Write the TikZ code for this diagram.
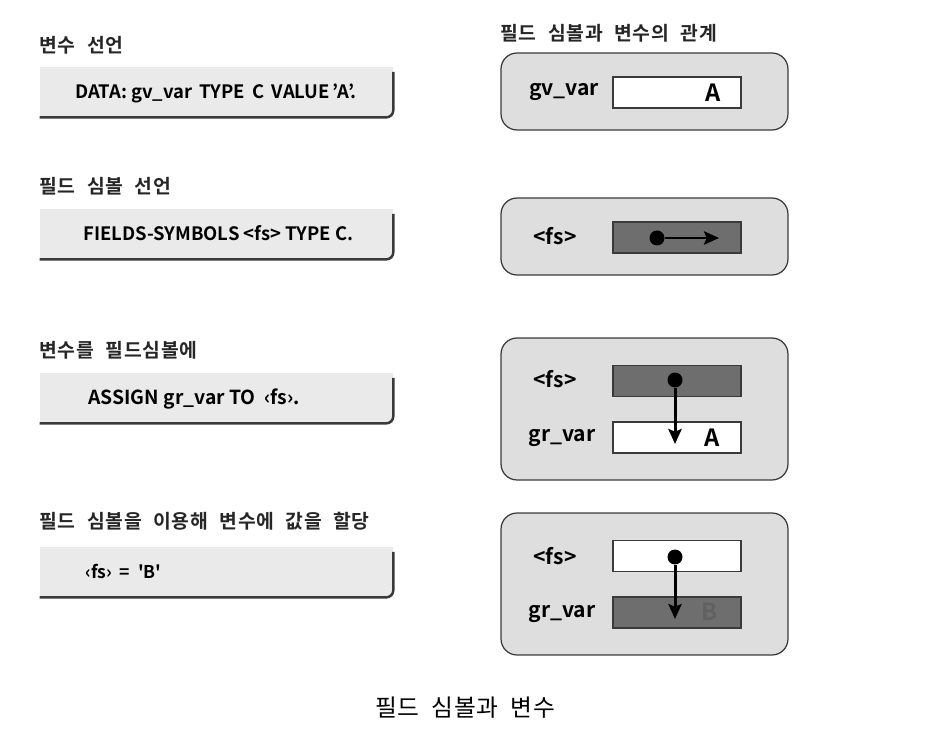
\documentclass[tikz,border=0pt]{standalone}
\usepackage{fontspec}
\setmainfont{Noto Sans CJK KR}[BoldFont={Noto Sans CJK KR Bold}]
\newfontfamily\steplabelfont{Noto Sans CJK KR Bold}[WordSpace=2.2, LetterSpace=4]
\newfontfamily\capfont{Noto Sans CJK KR}[WordSpace=2, LetterSpace=3]
\newfontfamily\plaincodefont{Noto Sans CJK KR Bold}
\usetikzlibrary{arrows.meta}
\definecolor{codegray}{HTML}{EAEAEA}
\definecolor{panelgray}{HTML}{DEDEDE}
\definecolor{cellgray}{HTML}{6E6E6E}
\definecolor{edgegray}{HTML}{3A3A3A}
\tikzset{
  codebox/.style={fill=codegray, minimum width=7.06cm, minimum height=1cm, inner sep=0pt},
  codeedge/.style={draw=edgegray, line width=1.4pt, rounded corners=4pt},
  codetext/.style={anchor=base west, font=\bfseries\fontsize{10.5}{12}\selectfont, inner sep=0pt},
  steplabel/.style={anchor=west, font=\steplabelfont\fontsize{11}{13}\selectfont, inner sep=0pt, text=black!85},
  panel/.style={draw=edgegray, fill=panelgray, line width=0.7pt, rounded corners=0.32cm, minimum width=5.74cm},
  cell/.style={draw=edgegray, line width=0.6pt, minimum width=2.56cm, minimum height=0.62cm, inner sep=0pt},
  varname/.style={anchor=base, font=\bfseries\fontsize{12}{14}\selectfont, inner sep=0pt},
  cellvalue/.style={anchor=base, font=\bfseries\fontsize{13.5}{15}\selectfont, inner sep=0pt},
  ptr/.style={circle, fill=black, minimum size=0.3cm, inner sep=0pt},
  ptrarrow/.style={-{Stealth[length=8.5pt, width=7.5pt, inset=1.5pt]}, line width=1.7pt}
}
\begin{document}
\begin{tikzpicture}[x=0.02cm, y=-0.02cm]
\useasboundingbox (0,0) rectangle (930,746);

% Step labels on the left
\node[steplabel] (l1) at (39,45) {변수 선언};
\node[steplabel] (l2) at (39,186) {필드 심볼 선언};
\node[steplabel] (l3) at (39,350) {변수를 필드심볼에};
\node[steplabel] (l4) at (39,521) {필드 심볼을 이용해 변수에 값을 할당};

% Code boxes
\foreach \name/\y in {b1/92, b2/234, b3/398, b4/572} {
  \node[codebox] (\name) at (216.5,\y) {};
  \draw[codeedge] ([yshift=-3pt]\name.north east) -- (\name.south east) -- (\name.south west);
}
\node[codetext] (t1) at (75,99) {DATA: gv\_var\, TYPE\, C\, VALUE\,'A'.};
\node[codetext] (t2) at (83,241) {FIELDS-SYMBOLS <fs> TYPE C.};
\node[codetext, font=\bfseries\fontsize{11}{13}\selectfont] (t3) at (88,405) {ASSIGN gr\_var TO\ \ ‹fs›.};
\node[codetext, font=\plaincodefont\fontsize{10}{12}\selectfont] (t4) at (85,578) {‹fs›\ \ =\ \ 'B'};

% Panels on the right
\node[steplabel] (l0) at (500,33) {필드 심볼과 변수의 관계};
\node[panel, minimum height=1.54cm] (p1) at (644.5,91.5) {};
\node[panel, minimum height=1.54cm] (p2) at (644.5,236.5) {};
\node[panel, minimum height=2.84cm] (p3) at (644.5,409) {};
\node[panel, minimum height=2.84cm] (p4) at (644.5,584) {};

% gv_var holds A
\node[cell, fill=white] (c1) at (677,92.5) {};
\node[varname] (n1) at (564,96) {gv\_var};
\node[cellvalue] (v1) at (713,102) {A};

% <fs> declared
\node[cell, fill=cellgray] (c2) at (677,237.5) {};
\node[varname] (n2) at (555,245) {<fs>};
\node[ptr] (d2) at (657,238) {};
\coordinate (e2) at (719,238);
\draw[ptrarrow] (d2) -- (e2);

% <fs> assigned to gr_var
\node[cell, fill=cellgray] (c3) at (677,381) {};
\node[cell, fill=white] (c4) at (677,437.5) {};
\node[varname] (n3) at (555,388) {<fs>};
\node[varname] (n4) at (562,442) {gr\_var};
\node[cellvalue] (v4) at (712,447) {A};
\node[ptr] (d3) at (675,380) {};
\coordinate (e3) at (675,444);
\draw[ptrarrow] (d3) -- (e3);

% value B written through <fs>
\node[cell, fill=white] (c5) at (677,556) {};
\node[cell, fill=cellgray] (c6) at (677,612.5) {};
\node[varname] (n5) at (555,564) {<fs>};
\node[varname] (n6) at (562,617) {gr\_var};
\node[cellvalue, text=black!62] (v6) at (710,620) {B};
\node[ptr] (d5) at (675,557) {};
\coordinate (e5) at (675,619);
\draw[ptrarrow] (d5) -- (e5);

% Caption
\node[font=\capfont\fontsize{13.5}{15}\selectfont, inner sep=0pt] (cap) at (465,708) {필드 심볼과 변수};

\end{tikzpicture}
\end{document}
